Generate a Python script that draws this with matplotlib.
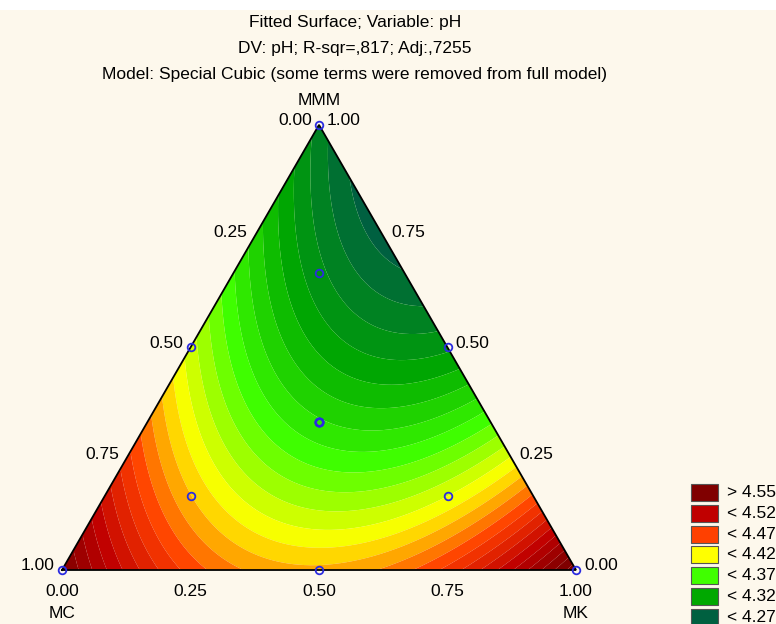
import numpy as np
import matplotlib
matplotlib.use("Agg")
import matplotlib.pyplot as plt
import matplotlib.tri as mtri
from matplotlib.colors import LinearSegmentedColormap
from matplotlib.patches import Rectangle

plt.rcParams["font.family"] = ["Liberation Sans", "DejaVu Sans"]

TITLE_LINES = [
    "Fitted Surface; Variable: pH",
    "DV: pH; R-sqr=,817; Adj:,7255",
    "Model: Special Cubic (some terms were removed from full model)",
]

# design points (mixture proportions) and pH
MC = [1, 0, 0, 0.5, 0.5, 0, 1/3, 1/3, 2/3, 1/6, 1/6]
MK = [0, 1, 0, 0.5, 0, 0.5, 1/3, 1/3, 1/6, 2/3, 1/6]
MMM = [0, 0, 1, 0, 0.5, 0.5, 1/3, 1/3, 1/6, 1/6, 2/3]
PH = [4.56, 4.58, 4.29, 4.435, 4.40, 4.305, 4.345, 4.345, 4.438, 4.408, 4.30]

TICKS = [0.0, 0.25, 0.5, 0.75, 1.0]
TICK_LABELS = ["0.00", "0.25", "0.50", "0.75", "1.00"]

LEGEND_LABELS = ["> 4.55", "< 4.52", "< 4.47", "< 4.42", "< 4.37", "< 4.32", "< 4.27"]
LEGEND_COLORS = ["#800000", "#c00000", "#ff4000", "#ffff00", "#40ff00", "#00a800", "#006040"]

# colour ramp anchors (value, colour)
RAMP_VALUES = [4.20, 4.265, 4.315, 4.365, 4.415, 4.465, 4.515, 4.56, 4.66]
RAMP_COLORS = ["#005a48", "#006040", "#00a800", "#40ff00", "#ffff00", "#ff4000",
               "#c00000", "#800000", "#700000"]

BG = "#fdf8ec"
H = np.sqrt(3) / 2
SIDE_PX = 514.0


def px(n):
    return n / SIDE_PX


def terms(a, b, c):
    a, b, c = np.asarray(a, float), np.asarray(b, float), np.asarray(c, float)
    return np.column_stack([a, b, c, a * b, a * c, b * c, a * b * c])


def to_xy(mc, mk, mmm):
    return np.asarray(mk) + 0.5 * np.asarray(mmm), H * np.asarray(mmm)


# special cubic fit
coef, *_ = np.linalg.lstsq(terms(MC, MK, MMM), np.array(PH), rcond=None)

n = 90
ga, gb = [], []
for i in range(n + 1):
    for j in range(n + 1 - i):
        ga.append(i / n)
        gb.append(j / n)
ga = np.array(ga)
gb = np.array(gb)
gc = 1 - ga - gb
gc[gc < 0] = 0
gx, gy = to_xy(ga, gb, gc)
z = terms(ga, gb, gc) @ coef
tri = mtri.Triangulation(gx, gy)

levels = np.arange(4.2075, 4.67, 0.0125)
mids = (levels[:-1] + levels[1:]) / 2
vmin, vmax = RAMP_VALUES[0], RAMP_VALUES[-1]
cmap = LinearSegmentedColormap.from_list(
    "ph", [((v - vmin) / (vmax - vmin), c) for v, c in zip(RAMP_VALUES, RAMP_COLORS)])
band_colors = [cmap((m - vmin) / (vmax - vmin)) for m in mids]

fig = plt.figure(figsize=(7.76, 6.24), dpi=100)
fig.patch.set_facecolor(BG)
fig.add_artist(Rectangle((0, 1 - 10 / 624), 1, 10 / 624, transform=fig.transFigure,
                         facecolor="white", edgecolor="none", zorder=0))

ax = fig.add_axes([0, 0, 1, 1])
ax.set_facecolor("none")
ax.set_xlim(-62 / SIDE_PX, 714 / SIDE_PX)
ax.set_ylim(-54 / SIDE_PX, 570 / SIDE_PX)
ax.axis("off")

ax.tricontourf(tri, z, levels=levels, colors=band_colors, antialiased=True)

# outline
ox, oy = to_xy([1, 0, 0, 1], [0, 1, 0, 0], [0, 0, 1, 0])
ax.plot(ox, oy, color="black", lw=1.3, solid_joinstyle="miter")

# design points (centroid replicated, so it comes out heavier)
dx, dy = to_xy(MC, MK, MMM)
ax.plot(dx, dy, "o", ms=5.5, mfc="none", mec="#2b2be0", mew=1.3, ls="none", clip_on=False)
cx, cy = to_xy(1/3, 1/3, 1/3)
ax.plot([cx], [cy], "o", ms=5.5, mfc="none", mec="#2b2be0", mew=1.9, clip_on=False)

fs = 12.5
for t, lab in zip(TICKS, TICK_LABELS):
    # MC along left edge
    x, y = to_xy(t, 0, 1 - t)
    ax.text(x - px(7), y + px(4), lab, ha="right", va="center", fontsize=fs)
    # MMM along right edge
    x, y = to_xy(0, 1 - t, t)
    ax.text(x + px(8), y + px(4), lab, ha="left", va="center", fontsize=fs)
    # MK along bottom
    x, y = to_xy(1 - t, t, 0)
    ax.text(x, y - px(21), lab, ha="center", va="center", fontsize=fs)

x, y = to_xy(1, 0, 0)
ax.text(x, y - px(44), "MC", ha="center", va="center", fontsize=fs)
x, y = to_xy(0, 1, 0)
ax.text(x, y - px(44), "MK", ha="center", va="center", fontsize=fs)
x, y = to_xy(0, 0, 1)
ax.text(x, y + px(24), "MMM", ha="center", va="center", fontsize=fs)

for k, line in enumerate(TITLE_LINES):
    fig.text(355 / 776, 1 - (22 + 26 * k) / 624, line, ha="center", va="center", fontsize=fs)

# legend
for k, (lab, col) in enumerate(zip(LEGEND_LABELS, LEGEND_COLORS)):
    top = 484 + 20.8 * k
    fig.add_artist(Rectangle((691 / 776, 1 - (top + 17) / 624), 27 / 776, 17 / 624,
                             transform=fig.transFigure, facecolor=col,
                             edgecolor="#555555", lw=0.8))
    fig.text(727 / 776, 1 - (top + 8.5) / 624, lab, ha="left", va="center", fontsize=fs)

fig.savefig("out.png", dpi=100, facecolor=fig.get_facecolor())
